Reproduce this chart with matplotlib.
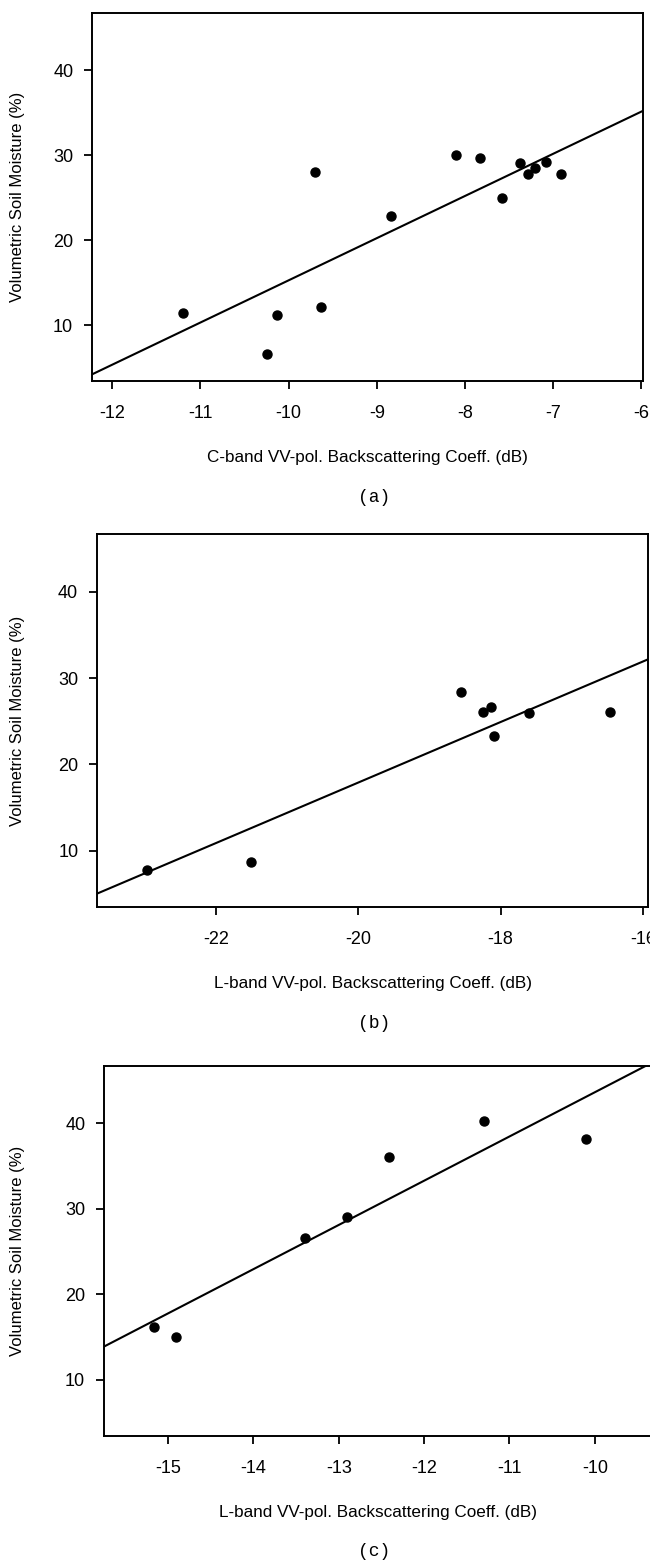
import matplotlib
matplotlib.use("Agg")
import matplotlib.pyplot as plt
import numpy as np

plt.rcParams['font.family'] = ['Liberation Sans', 'DejaVu Sans']
plt.rcParams['axes.unicode_minus'] = False

# (a) C-band VV-pol backscatter vs soil moisture
c_sigma = [-11.20, -10.13, -9.70, -9.63, -8.84, -8.10, -7.83, -7.58, -7.38, -7.28, -7.20, -7.08, -6.91, -10.24]
c_mv = [11.5, 11.2, 28.0, 12.2, 22.8, 30.0, 29.7, 25.0, 29.1, 27.8, 28.5, 29.2, 27.8, 6.6]
c_fit = [4.956, 64.84]          # slope, intercept
c_xlim = [-12.23, -5.98]
c_xticks = [-12, -11, -10, -9, -8, -7, -6]

# (b) L-band VV-pol, first site
l1_sigma = [-22.97, -21.50, -18.55, -18.25, -18.14, -18.09, -17.60, -16.46]
l1_mv = [7.7, 8.7, 28.4, 26.1, 26.6, 23.3, 26.0, 26.1]
l1_fit = [3.51, 88.08]
l1_xlim = [-23.67, -15.93]
l1_xticks = [-22, -20, -18, -16]

# (c) L-band VV-pol, second site
l2_sigma = [-15.17, -14.91, -13.39, -12.90, -12.41, -11.30, -10.10]
l2_mv = [16.2, 15.0, 26.6, 29.0, 36.1, 40.3, 38.2]
l2_fit = [5.17, 95.33]
l2_xlim = [-15.75, -9.33]
l2_xticks = [-15, -14, -13, -12, -11, -10]

ylim = [3.45, 46.7]
yticks = [10, 20, 30, 40]
ylab = "Volumetric Soil Moisture (%)"

W, H = 650, 1564
fig = plt.figure(figsize=(W / 100, H / 100), dpi=100)


def px_axes(left, top, right, bottom):
    return fig.add_axes([left / W, 1 - bottom / H, (right - left) / W, (bottom - top) / H])


panels = [
    (px_axes(92, 13, 643, 381), c_sigma, c_mv, c_fit, c_xlim, c_xticks,
     "C-band VV-pol. Backscattering Coeff. (dB)", "(a)", 498),
    (px_axes(97, 534, 648, 907), l1_sigma, l1_mv, l1_fit, l1_xlim, l1_xticks,
     "L-band VV-pol. Backscattering Coeff. (dB)", "(b)", 1024),
    (px_axes(104, 1066, 652, 1436), l2_sigma, l2_mv, l2_fit, l2_xlim, l2_xticks,
     "L-band VV-pol. Backscattering Coeff. (dB)", "(c)", 1552),
]

for ax, xs, ys, fit, xlim, xticks, xlab, tag, tag_y in panels:
    xx = np.array(xlim)
    ax.plot(xx, fit[0] * xx + fit[1], color="black", lw=1.5)
    ax.plot(xs, ys, "o", color="black", ms=6.5)
    ax.set_xlim(xlim)
    ax.set_ylim(ylim)
    ax.set_xticks(xticks)
    ax.set_yticks(yticks)
    ax.tick_params(direction="out", length=5.5, width=1.3, labelsize=13)
    ax.tick_params(axis="x", pad=12)
    ax.tick_params(axis="y", pad=8)
    for s in ax.spines.values():
        s.set_linewidth(1.4)
    ax.set_xlabel(xlab, fontsize=12.3, labelpad=20)
    ax.set_ylabel(ylab, fontsize=12)
    lx = (25 - ax.get_position().x0 * W) / (ax.get_position().width * W)
    ax.yaxis.set_label_coords(lx, 0.5)
    fig.text(0.575, 1 - tag_y / H, tag, family="Liberation Mono", fontsize=13,
             ha="center", va="center")

fig.savefig("out.png", dpi=100)
